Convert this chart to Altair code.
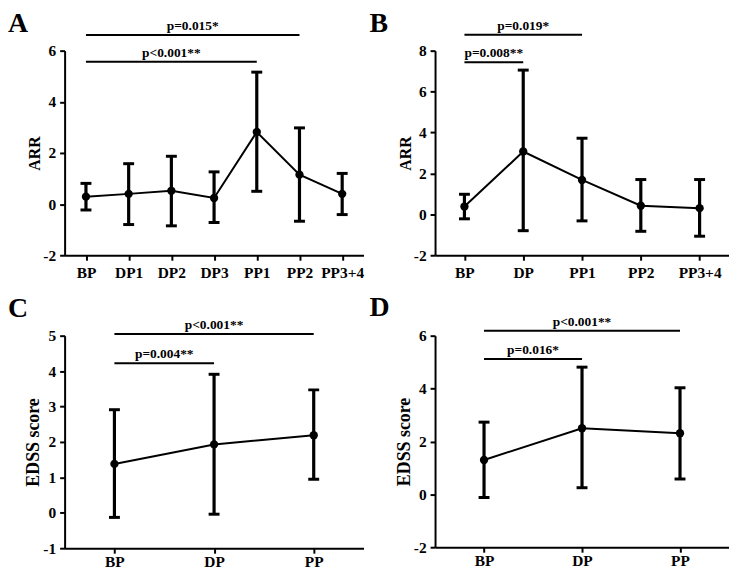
import json
import altair as alt
import pandas as pd

FONT = "Liberation Serif"

# ---------------- Panel A ----------------
A_CATS = ["BP", "DP1", "DP2", "DP3", "PP1", "PP2", "PP3+4"]
A_MEAN = [0.29, 0.40, 0.52, 0.24, 2.82, 1.15, 0.40]
A_LOW = [-0.23, -0.80, -0.85, -0.72, 0.50, -0.67, -0.41]
A_HIGH = [0.81, 1.58, 1.87, 1.26, 5.16, 2.98, 1.20]
A_CMP_FROM = ["BP", "BP"]
A_CMP_TO = ["PP1", "PP2"]
A_CMP_Y = [5.57, 6.61]
A_CMP_TEXT = ["p<0.001**", "p=0.015*"]

# ---------------- Panel B ----------------
B_CATS = ["BP", "DP", "PP1", "PP2", "PP3+4"]
B_MEAN = [0.38, 3.07, 1.68, 0.42, 0.30]
B_LOW = [-0.22, -0.80, -0.32, -0.83, -1.07]
B_HIGH = [0.98, 7.05, 3.72, 1.70, 1.70]
B_CMP_FROM = ["BP", "BP"]
B_CMP_TO = ["DP", "PP1"]
B_CMP_Y = [7.43, 8.78]
B_CMP_TEXT = ["p=0.008**", "p=0.019*"]

# ---------------- Panel C ----------------
C_CATS = ["BP", "DP", "PP"]
C_MEAN = [1.38, 1.93, 2.19]
C_LOW = [-0.13, -0.04, 0.95]
C_HIGH = [2.91, 3.91, 3.47]
C_CMP_FROM = ["BP", "BP"]
C_CMP_TO = ["DP", "PP"]
C_CMP_Y = [4.22, 5.05]
C_CMP_TEXT = ["p=0.004**", "p<0.001**"]

# ---------------- Panel D ----------------
D_CATS = ["BP", "DP", "PP"]
D_MEAN = [1.30, 2.50, 2.31]
D_LOW = [-0.12, 0.25, 0.58]
D_HIGH = [2.73, 4.81, 4.03]
D_CMP_FROM = ["BP", "BP"]
D_CMP_TO = ["DP", "PP"]
D_CMP_Y = [5.12, 6.19]
D_CMP_TEXT = ["p=0.016*", "p<0.001**"]


def panel(letter, cats, mean, low, high, cmp_from, cmp_to, cmp_y, cmp_text,
          ytitle, title_size, ymin, ymax, ystep, width, height,
          letter_x, letter_y, xlabel_pad):
    n = len(cats)
    df = pd.DataFrame({"idx": list(range(n)), "cat": cats, "mean": mean,
                       "low": low, "high": high})
    sig = pd.DataFrame({
        "x1": [cats.index(c) for c in cmp_from],
        "x2": [cats.index(c) for c in cmp_to],
        "y": cmp_y,
        "label": cmp_text,
    })
    sig["xm"] = (sig["x1"] + sig["x2"]) / 2.0

    xscale = alt.Scale(domain=[-0.5, n - 0.5], nice=False, zero=False)
    yscale = alt.Scale(domain=[ymin, ymax], nice=False, zero=False)
    xaxis = alt.Axis(values=list(range(n)),
                     labelExpr=json.dumps(cats) + "[datum.value]",
                     grid=False, labelPadding=xlabel_pad, labelFlush=False,
                     labelOverlap=False, labelFontSize=15.5,
                     labelColor="#000000")
    yaxis = alt.Axis(values=list(range(ymin, ymax + 1, ystep)), grid=False,
                     labelExpr="toString(datum.value)",
                     labelPadding=4, titlePadding=0, labelFlush=False,
                     labelFontSize=15.5, titleFontSize=title_size,
                     labelColor="#000000", titleColor="#000000")

    def X(f):
        return alt.X(f, scale=xscale, axis=xaxis, title=None)

    def Y(f):
        return alt.Y(f, scale=yscale, axis=yaxis, title=ytitle)

    base = alt.Chart(df)
    line = base.mark_line(color="black", strokeWidth=2).encode(
        x=X("idx:Q"), y=Y("mean:Q"))
    bars = base.mark_rule(color="black", strokeWidth=3.2).encode(
        x=X("idx:Q"), y=Y("low:Q"), y2=alt.Y2("high:Q"))
    cap_lo = base.mark_tick(color="black", thickness=3, size=11,
                            orient="horizontal", opacity=1).encode(
        x=X("idx:Q"), y=Y("low:Q"))
    cap_hi = base.mark_tick(color="black", thickness=3, size=11,
                            orient="horizontal", opacity=1).encode(
        x=X("idx:Q"), y=Y("high:Q"))
    pts = base.mark_circle(color="black", size=70, opacity=1).encode(
        x=X("idx:Q"), y=Y("mean:Q"))

    sbase = alt.Chart(sig)
    srule = sbase.mark_rule(color="black", strokeWidth=2, clip=False).encode(
        x=X("x1:Q"), x2=alt.X2("x2:Q"), y=Y("y:Q"))
    stext = sbase.mark_text(font=FONT, fontWeight="bold", fontSize=13.5,
                            baseline="alphabetic", dy=-5, color="black",
                            clip=False).encode(
        x=X("xm:Q"), y=Y("y:Q"), text="label:N")

    lab = alt.Chart(pd.DataFrame({"t": [letter]})).mark_text(
        font=FONT, fontWeight="bold", fontSize=28, align="left",
        baseline="top", color="black").encode(
        x=alt.value(letter_x), y=alt.value(letter_y), text="t:N")

    return alt.layer(line, bars, cap_lo, cap_hi, pts, srule, stext, lab).properties(
        width=width, height=height)


pa = panel("A", A_CATS, A_MEAN, A_LOW, A_HIGH, A_CMP_FROM, A_CMP_TO, A_CMP_Y,
           A_CMP_TEXT, "ARR", 16, -2, 6, 2, 301, 206, -57, -41, 5)
pb = panel("B", B_CATS, B_MEAN, B_LOW, B_HIGH, B_CMP_FROM, B_CMP_TO, B_CMP_Y,
           B_CMP_TEXT, "ARR", 16, -2, 8, 2, 296, 206, -66, -41, 5)
pc = panel("C", C_CATS, C_MEAN, C_LOW, C_HIGH, C_CMP_FROM, C_CMP_TO, C_CMP_Y,
           C_CMP_TEXT, "EDSS score", 18, -1, 5, 1, 301, 214, -57, -41, 1)
pd_ = panel("D", D_CATS, D_MEAN, D_LOW, D_HIGH, D_CMP_FROM, D_CMP_TO, D_CMP_Y,
            D_CMP_TEXT, "EDSS score", 18, -2, 6, 2, 296, 213, -66, -42, 1)

chart = alt.concat(pa, pb, pc, pd_, columns=2, bounds="flush",
                   spacing={"row": 81, "column": 72}).properties(
    padding=0
).configure_view(stroke=None).configure_axis(
    domainColor="black", domainWidth=2, tickColor="black", tickWidth=2,
    tickSize=5, labelFont=FONT, labelFontWeight="bold",
    labelColor="black", titleFont=FONT, titleFontWeight="bold",
    titleColor="black")

chart.save("out.html", embed_options={"renderer": "svg", "actions": False})
